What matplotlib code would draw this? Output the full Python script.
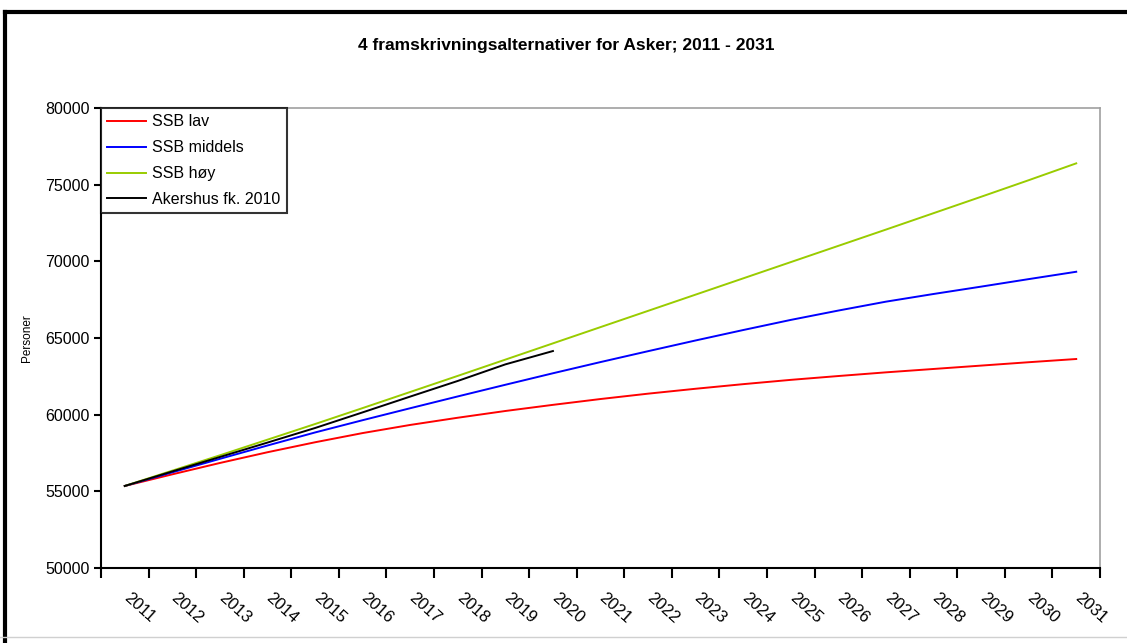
import numpy as np
import matplotlib
matplotlib.use("Agg")
import matplotlib.pyplot as plt
import matplotlib.transforms as mtransforms
from matplotlib.lines import Line2D

plt.rcParams['font.family'] = ['Liberation Sans', 'DejaVu Sans']

# data
years = [str(y) for y in range(2011, 2032)]
ssb_lav = [55350, 56110, 56850, 57550, 58200, 58800, 59330, 59800, 60240, 60640,
           61020, 61370, 61690, 61990, 62270, 62520, 62760, 62980, 63200, 63420, 63630]
ssb_middels = [55350, 56240, 57120, 57990, 58840, 59640, 60420, 61190, 61950, 62700,
               63430, 64140, 64840, 65520, 66180, 66790, 67370, 67870, 68350, 68840, 69320]
ssb_hoy = [55350, 56350, 57350, 58370, 59390, 60430, 61480, 62530, 63590, 64650,
           65710, 66770, 67830, 68890, 69950, 71010, 72070, 73140, 74210, 75290, 76390]
akershus = [55350, 56300, 57240, 58180, 59130, 60150, 61180, 62200, 63280, 64150]

series = [
    ("SSB lav", ssb_lav, "#ff0000"),
    ("SSB middels", ssb_middels, "#0000ff"),
    ("SSB høy", ssb_hoy, "#99cc00"),
    ("Akershus fk. 2010", akershus, "#000000"),
]

fig = plt.figure(figsize=(11.27, 6.43), dpi=100)
ax = fig.add_axes([101 / 1127, 1 - 568 / 643, 999 / 1127, 460 / 643])

for name, vals, col in series:
    ax.plot(np.arange(len(vals)), vals, color=col, lw=1.4, label=name)

ax.set_xlim(-0.5, len(years) - 0.5)
ax.set_ylim(50000, 80000)
ax.set_yticks(np.arange(50000, 80001, 5000))
ax.tick_params(axis='y', direction='out', length=5, width=1.5, labelsize=11.5, pad=3)

# category axis: ticks between categories, labels on categories
ax.set_xticks(np.arange(-0.5, len(years)), labels=[''] * (len(years) + 1))
ax.set_xticks(np.arange(len(years)), minor=True)
ax.set_xticklabels(years, minor=True, rotation=-42, ha='left', va='top',
                   rotation_mode='anchor', fontsize=12)
ax.tick_params(axis='x', which='major', direction='out', length=7, width=1.5)
ax.tick_params(axis='x', which='minor', length=0, pad=16)
shift = mtransforms.ScaledTranslation(6 / 100, 0, fig.dpi_scale_trans)
for lab in ax.get_xticklabels(minor=True):
    lab.set_transform(lab.get_transform() + shift)

for s in ['left', 'bottom']:
    ax.spines[s].set_linewidth(1.5)
    ax.spines[s].set_color('black')
for s in ['top', 'right']:
    ax.spines[s].set_linewidth(1.2)
    ax.spines[s].set_color('#a0a0a0')

ax.set_ylabel('Personer', fontsize=8.5)
ax.yaxis.set_label_coords(-0.068, 0.5)

leg = ax.legend(loc='upper left', bbox_to_anchor=(0, 1), borderaxespad=0,
                fontsize=11.5, frameon=True, fancybox=False, handlelength=2.4,
                handletextpad=0.4, labelspacing=0.68, borderpad=0.4)
leg.get_frame().set_edgecolor('black')
leg.get_frame().set_linewidth(1.5)

fig.text(0.502, 0.930, '4 framskrivningsalternativer for Asker; 2011 - 2031',
         ha='center', va='center', fontsize=12.5, fontweight='bold')

# page frame around the chart
fig.add_artist(Line2D([5 / 1127, 5 / 1127], [0, 1 - 12 / 643], color='black', lw=3))
fig.add_artist(Line2D([5 / 1127, 1], [1 - 12 / 643, 1 - 12 / 643], color='black', lw=3))
fig.add_artist(Line2D([0, 1], [1 - 637 / 643, 1 - 637 / 643], color='#d0d0d0', lw=1))

fig.savefig('out.png', dpi=100)
